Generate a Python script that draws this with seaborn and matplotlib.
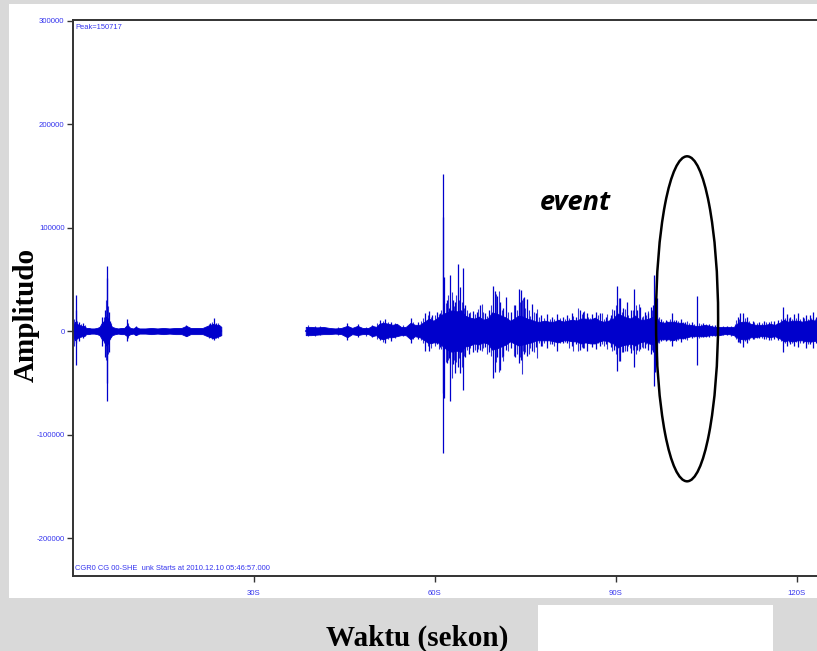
import matplotlib
matplotlib.use("Agg")
import matplotlib.pyplot as plt
from matplotlib.patches import Ellipse, Rectangle
import seaborn as sns
import pandas as pd

# ---------------- data (amplitudes in thousands of counts, time in seconds) ----
SEG1_ENVELOPE = [  # (time, upper core, lower core)
    (0.1, 5, -5), (0.3, 9, -9), (0.6, 7, -7), (1.0, 6, -6), (1.4, 5, -5), (1.8, 5, -5),
    (2.2, 3, -3), (2.6, 3, -3), (3.0, 2.5, -2.5), (3.5, 2.5, -2.5), (4.0, 3, -3),
    (4.4, 4, -4), (4.8, 8, -8), (5.2, 10, -10), (5.5, 14, -14), (5.8, 12, -12),
    (6.1, 7, -7), (6.5, 4, -4), (7.0, 3, -3), (7.5, 2.5, -2.5), (8.0, 3, -3),
    (8.5, 3, -3), (9.0, 6, -5), (9.5, 3, -3), (10.0, 2.5, -2.5), (10.4, 4, -4),
    (11.0, 2.5, -2.5), (12.0, 2.5, -2.5), (13.0, 3, -3), (14.0, 2.5, -2.5),
    (15.0, 3, -3), (16.0, 2.5, -2.5), (17.0, 3, -3), (18.0, 3, -3), (18.8, 5, -5),
    (19.5, 3, -3), (20.5, 3, -3), (21.5, 3, -3), (22.3, 5, -5), (22.8, 6, -6),
    (23.3, 7, -7), (23.7, 6, -6), (24.2, 6, -5), (24.6, 4, -4),
]
SEG1_SPIKES = [  # (time, top, bottom)
    (0.45, 35, -33), (0.55, 20, -12), (1.0, 9, -10), (1.6, 8, -7), (4.75, 14, -14),
    (5.3, 20, -25), (5.62, 63, -68), (5.72, 51, -50), (5.9, 18, -20), (6.1, 10, -8),
    (9.0, 12, -10), (10.4, 5, -4), (18.8, 6, -5), (22.8, 8, -6), (23.45, 12.5, -9),
    (23.8, 8, -7),
]
SEG1_MINOR = [
    (0.2, 12, -14), (0.7, 10, -8), (1.3, 7, -6), (2.0, 6, -5), (5.1, 14, -12),
    (5.45, 30, -28), (5.8, 24, -22), (6.3, 8, -6), (9.2, 8, -7), (22.5, 7, -7),
    (23.1, 9, -8), (24.0, 8, -7),
]
SEG2_ENVELOPE = [
    (38.6, 4, -4), (39.5, 4, -4), (40.5, 3.5, -3.5), (41.5, 4, -3), (42.5, 3, -3),
    (43.5, 2.5, -2.5), (44.5, 3, -3), (45.5, 5, -6), (46.3, 3, -3), (47.2, 5, -4),
    (48.0, 3, -3), (49.0, 3, -3), (49.6, 5, -5), (50.3, 4, -4), (50.8, 7, -7),
    (51.5, 8, -8), (52.3, 7, -6), (53.0, 6, -6), (53.7, 7, -5), (54.4, 4, -4),
    (55.2, 4, -4), (56.0, 8, -8), (56.7, 6, -5), (57.5, 6, -6), (58.3, 9, -9),
    (59.0, 12, -12), (59.8, 10, -11), (60.5, 13, -11), (61.2, 16, -14), (62.0, 18, -18),
    (62.8, 20, -20), (63.6, 19, -19), (64.4, 20, -20), (65.0, 15, -15), (65.8, 13, -14),
    (66.6, 12, -12), (67.3, 14, -13), (68.0, 11, -11), (68.8, 12, -12), (69.5, 18, -18),
    (70.2, 17, -17), (71.0, 15, -15), (71.8, 13, -13), (72.5, 10, -10), (73.2, 12, -12),
    (73.9, 15, -14), (74.6, 14, -13), (75.3, 12, -12), (76.0, 11, -11), (76.8, 9, -9),
    (77.5, 9, -9), (78.3, 10, -9), (79.0, 9, -9), (79.8, 9, -10), (80.5, 11, -11),
    (81.3, 9, -9), (82.0, 10, -9), (82.8, 11, -10), (83.5, 10, -10), (84.2, 12, -12),
    (85.0, 12, -11), (85.8, 11, -12), (86.6, 13, -12), (87.3, 10, -10), (88.0, 9, -9),
    (88.8, 10, -10), (89.6, 12, -12), (90.3, 17, -16), (91.0, 15, -14), (91.8, 13, -13),
    (92.5, 12, -12), (93.2, 15, -14), (94.0, 11, -11), (94.8, 11, -10), (95.5, 12, -12),
    (96.2, 14, -13), (96.6, 16, -15), (97.2, 9, -8), (98.0, 8, -8), (98.8, 9, -8),
    (99.5, 9, -9), (100.3, 8, -7), (101.0, 8, -7), (101.8, 6, -6), (102.5, 6, -5),
    (103.2, 5, -5), (104.0, 5, -5), (104.8, 6, -5), (105.6, 5, -4), (106.4, 4, -4),
    (107.2, 4, -4), (108.0, 4, -3), (108.8, 4, -3), (109.6, 4, -4), (110.3, 8, -7),
    (111.0, 9, -8), (111.7, 9, -8), (112.4, 7, -6), (113.2, 6, -6), (114.0, 6, -5),
    (114.8, 6, -5), (115.6, 7, -6), (116.4, 6, -5), (117.2, 8, -7), (117.9, 11, -10),
    (118.6, 9, -9), (119.4, 10, -10), (120.2, 10, -9), (121.0, 9, -9), (121.8, 10, -10),
    (122.6, 11, -10), (123.4, 9, -9),
]
SEG2_SPIKES = [
    (45.5, 7.5, -9), (47.2, 7, -5.5), (49.6, 6, -6), (51.0, 11, -9), (51.8, 12, -12),
    (52.8, 9, -10), (56.0, 12.5, -12), (57.2, 9, -8), (58.4, 17, -19), (59.1, 19.6, -19),
    (59.6, 15, -12), (60.4, 18, -13), (60.9, 17, -15), (61.35, 151.7, -117.6),
    (61.45, 110, -60), (61.6, 52, -65), (62.0, 30, -31), (62.3, 22, -26), (62.6, 54, -68),
    (63.0, 30, -32), (63.3, 28, -41), (63.8, 64.7, -34.5), (64.2, 42.8, -41),
    (64.7, 60.5, -57), (65.1, 25, -25), (65.6, 17, -22), (66.3, 19, -20), (67.0, 18, -20),
    (67.5, 25, -18), (68.3, 17, -15), (69.0, 20, -20), (69.6, 43.5, -45.5),
    (70.0, 39, -40), (70.4, 34, -25), (70.9, 28, -38), (71.4, 22, -24), (71.9, 33, -18),
    (72.6, 18, -16), (73.3, 25, -25), (73.9, 41, -31), (74.3, 40, -28), (74.8, 33, -22),
    (75.3, 31, -24), (76.1, 26, -19), (76.8, 17, -15), (77.6, 15, -14), (78.6, 16, -16),
    (79.4, 14, -13), (80.3, 16, -19), (81.2, 14, -12), (82.0, 15, -12), (82.7, 17, -14),
    (83.4, 14, -13), (84.1, 20, -18), (84.6, 18, -16), (85.2, 17, -19), (86.0, 16, -15),
    (86.7, 18, -17), (87.4, 17, -14), (88.4, 14, -13), (89.2, 15, -15), (89.8, 20, -18),
    (90.2, 43.4, -39), (90.8, 32, -29), (91.3, 22, -20), (91.9, 28, -19), (92.6, 20, -21),
    (93.1, 41, -35), (93.6, 20, -18), (94.1, 23, -17), (94.8, 18, -16), (95.4, 17, -18),
    (95.8, 23, -22), (96.2, 25, -20), (96.4, 54, -53), (96.6, 32, -40), (96.8, 32, -32),
    (97.5, 12, -10), (98.3, 11, -10), (99.3, 17, -14), (100.0, 11, -10), (100.8, 12, -11),
    (101.5, 9, -8), (102.6, 9, -7), (103.5, 34, -33), (104.5, 8, -6), (105.5, 7, -6),
    (106.5, 6, -5), (108.5, 5, -4), (110.3, 14, -11), (110.7, 17, -12), (111.1, 17, -15),
    (111.8, 14, -12), (112.8, 10, -8), (113.8, 9, -7), (114.6, 10, -8), (115.4, 9, -9),
    (116.3, 10, -8), (117.0, 11, -9), (117.8, 23, -20), (118.4, 16, -14), (119.0, 14, -13),
    (119.6, 16, -14), (120.3, 17, -15), (121.0, 14, -12), (121.6, 15, -16),
    (122.2, 15, -13), (122.7, 18, -16), (123.2, 14, -12),
]
SEG2_MINOR = [
    (39.0, 6, -5), (40.2, 5, -5), (41.0, 5, -4), (44.0, 4, -4), (48.6, 4, -5),
    (50.5, 8, -8), (51.4, 10, -11), (52.2, 9, -8), (53.4, 8, -7), (54.8, 6, -5),
    (56.4, 9, -8), (57.8, 10, -9), (58.0, 13, -12), (58.8, 15, -14), (59.4, 14, -16),
    (60.0, 15, -14), (60.7, 16, -17), (61.1, 20, -17), (61.8, 27, -30), (62.15, 35, -28),
    (62.45, 25, -32), (62.9, 38, -45), (63.15, 24, -28), (63.55, 35, -30), (64.0, 30, -26),
    (64.45, 28, -35), (64.9, 22, -24), (65.35, 20, -18), (65.9, 18, -16), (66.6, 16, -18),
    (67.2, 21, -17), (67.8, 25.8, -19.3), (68.0, 18, -16), (68.7, 14.5, -22.5),
    (69.3, 25, -24), (70.2, 35.4, -30), (70.7, 38.6, -40), (71.1, 20, -25),
    (71.4, 16, -29), (72.2, 18, -19), (73.1, 25, -24), (73.6, 20, -22), (74.1, 28, -25),
    (74.5, 30, -42), (74.7, 32, -19), (75.0, 22, -20), (75.6, 20, -22), (75.8, 14.5, -16),
    (76.4, 18, -20), (76.9, 21, -26), (77.3, 14, -12), (77.8, 10, -14.5), (78.2, 13, -12),
    (79.1, 11.6, -13), (79.8, 12, -14), (80.7, 13, -12), (81.1, 8, -9.7), (81.6, 12, -11),
    (82.2, 13, -16), (83.0, 14.5, -19), (83.8, 21.9, -19), (84.4, 16, -15), (84.7, 19, -16),
    (85.5, 14, -12), (85.8, 13, -9.7), (86.3, 12, -12), (86.6, 8, -8), (87.0, 15, -12),
    (87.7, 17.7, -13), (88.1, 12, -14), (88.5, 16, -17.7), (89.0, 13, -12), (89.4, 21, -19),
    (90.0, 25, -22), (90.6, 32, -29), (91.1, 18, -20), (91.6, 21, -19), (92.1, 15, -14),
    (92.4, 13, -16), (92.9, 20, -18), (93.4, 25, -22), (93.8, 25.8, -19), (94.3, 14, -15),
    (94.6, 14.5, -16), (95.1, 15, -13), (95.4, 19, -14.5), (96.0, 20, -18), (96.9, 20, -22),
    (97.2, 14, -12), (97.8, 10, -9), (98.6, 10, -9), (99.0, 12, -10), (99.7, 11, -9),
    (100.4, 10, -9), (101.2, 9, -8), (101.8, 10, -9), (102.2, 8, -6), (103.0, 7, -6),
    (103.8, 8, -7), (104.2, 7, -6), (105.0, 7, -6), (106.0, 6, -5), (107.0, 5, -4),
    (107.8, 5, -4), (109.2, 5, -5), (109.8, 7, -6), (110.0, 11, -8), (110.5, 12, -11),
    (111.4, 13, -10), (112.2, 10, -9), (113.0, 9, -8), (113.5, 8, -7), (114.2, 8, -7),
    (115.0, 9, -8), (115.8, 10, -9), (116.7, 8, -7), (117.4, 12, -10), (118.1, 13, -12),
    (118.8, 13, -11), (119.3, 12, -12), (119.9, 13, -11), (120.6, 12, -12),
    (121.3, 13, -11), (121.9, 12, -13), (122.4, 13, -11), (123.0, 12, -10),
]
X_TICKS = [30, 60, 90, 120]
X_TICK_LABELS = ["30S", "60S", "90S", "120S"]
Y_TICKS = [300000, 200000, 100000, 0, -100000, -200000]
Y_TICK_LABELS = ["300000", "200000", "100000", "0", "-100000", "-200000"]
PEAK_LABEL = "Peak=150717"
STATION_LABEL = "CGR0 CG 00-SHE  unk Starts at 2010.12.10 05:46:57.000"
EVENT_LABEL = "event"
EVENT_CENTER = (101.85, 11800)
EVENT_SIZE = (10.3, 314000)
X_LABEL = "Waktu (sekon)"
Y_LABEL = "Amplitudo"

# ---------------- styling -----------------------------------------------------
sns.set_theme(style="white")
plt.rcParams["font.family"] = ["Liberation Sans", "DejaVu Sans"]
TRACE = "#0000cc"
LABEL_BLUE = "#3434ee"
W, H = 817, 651

fig = plt.figure(figsize=(W / 100, H / 100), dpi=100, facecolor="#d9d9d9")
fig.patches.append(Rectangle((9 / W, 1 - 598 / H), (W - 9) / W, (598 - 4) / H,
                             transform=fig.transFigure, facecolor="white",
                             edgecolor="none", zorder=-5))
fig.patches.append(Rectangle((538 / W, 0), (773 - 538) / W, (H - 605) / H,
                             transform=fig.transFigure, facecolor="white",
                             edgecolor="none", zorder=-5))

ax = fig.add_axes([73 / W, 1 - 575.7 / H, (W - 73) / W, (575.7 - 20) / H])
ax.set_zorder(1)
ax.set_facecolor("white")


def to_frame(rows):
    return pd.DataFrame(rows, columns=["t", "up", "lo"]).assign(
        up=lambda d: d.up * 1000, lo=lambda d: d.lo * 1000)


for env, spikes, minor in ((SEG1_ENVELOPE, SEG1_SPIKES, SEG1_MINOR),
                           (SEG2_ENVELOPE, SEG2_SPIKES, SEG2_MINOR)):
    e = to_frame(env)
    s = to_frame(spikes)
    m = to_frame(minor)
    ax.fill_between(e.t, e.lo, e.up, color=TRACE, linewidth=0.6, zorder=2)
    sns.lineplot(x=e.t, y=(e.up + e.lo) / 2, ax=ax, color=TRACE, linewidth=1.2,
                 zorder=2)
    ax.vlines(m.t, m.lo, m.up, color=TRACE, linewidth=0.8, alpha=0.8, zorder=2)
    ax.vlines(s.t, s.lo, s.up, color=TRACE, linewidth=0.9, zorder=2)

ax.add_patch(Ellipse(EVENT_CENTER, EVENT_SIZE[0], EVENT_SIZE[1], fill=False,
                     edgecolor="black", linewidth=1.8, zorder=3))
ax.text(83.4, 124000, EVENT_LABEL, fontsize=19.5, fontweight="bold",
        fontstyle="italic", family=["Open Sans", "DejaVu Sans"], color="black",
        ha="center", va="center", zorder=4)

ax.set_xlim(0, 123.4)
ax.set_ylim(-236400, 300500)
ax.set_xticks(X_TICKS)
ax.set_xticklabels(X_TICK_LABELS)
ax.set_yticks(Y_TICKS)
ax.set_yticklabels(Y_TICK_LABELS)
ax.set_xlabel("")
ax.set_ylabel("")
ax.tick_params(axis="both", which="major", direction="out", length=4, width=1,
               color="#333333", labelsize=5.6, labelcolor=LABEL_BLUE, pad=2,
               bottom=True, left=True)
ax.tick_params(axis="x", pad=6)
for side in ("left", "bottom", "top"):
    ax.spines[side].set_visible(True)
    ax.spines[side].set_color("#333333")
    ax.spines[side].set_linewidth(1.4)
ax.spines["right"].set_visible(False)

ax.text(0.003, 0.992, PEAK_LABEL, transform=ax.transAxes, fontsize=5.4,
        color=LABEL_BLUE, ha="left", va="top")
ax.text(0.003, 0.006, STATION_LABEL, transform=ax.transAxes, fontsize=5.4,
        color=LABEL_BLUE, ha="left", va="bottom")

fig.text(26 / W, 1 - 315 / H, Y_LABEL, rotation=90, fontsize=21, fontweight="bold",
         family=["Liberation Serif", "DejaVu Serif"], color="black",
         ha="center", va="center")
fig.text(417 / W, 1 - 638 / H, X_LABEL, fontsize=21, fontweight="bold",
         family=["Liberation Serif", "DejaVu Serif"], color="black",
         ha="center", va="center")

fig.savefig("out.png", dpi=100, facecolor=fig.get_facecolor())
